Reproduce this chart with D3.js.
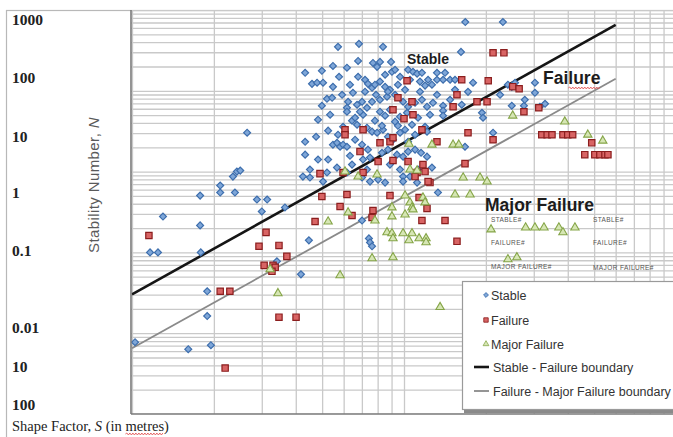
<!DOCTYPE html>
<html>
<head>
<meta charset="utf-8">
<script src="https://cdn.jsdelivr.net/npm/d3@7"></script>
<style>
  body { margin: 0; background: #fff; }
  svg { display: block; }
</style>
</head>
<body>
<svg id="chart" width="673" height="437"></svg>
<script>
// ---- Stable observations: shape factor S (m) and stability number N ----
const stableS = [
  16.8, 23.1, 5.72, 6.83, 8.37, 16.2, 6.78, 4.33, 4.99, 5.48,
  6.17, 7.69, 7.96, 8.16, 8.96, 9.03, 10.35, 10.79, 11.17, 11.64,
  13.22, 14.15, 12.26, 13.22, 13.92, 14.77, 15.4, 5.77, 4.59, 4.79,
  5.04, 5.48, 6.33, 6.78, 7.19, 7.37, 7.63, 7.82, 8.16, 8.52,
  8.88, 9.5, 10.52, 11.45, 11.95, 12.67, 17.94, 17.19, 24.1, 24.9,
  25.6, 30.3, 30.3, 5.92, 6.49, 5.21, 5.44, 6.23, 6.72, 7.01,
  7.31, 7.63, 8.16, 8.66, 9.27, 9.92, 10.35, 10.98, 11.64, 12.15,
  12.78, 4.99, 6.17, 6.17, 7.07, 8.16, 8.52, 8.88, 9.67, 10.26,
  13.92, 13.92, 13.92, 14.77, 24.9, 27.6, 31.6, 33.0, 19.35, 19.52,
  2.65, 4.33, 4.75, 5.26, 5.97, 5.48, 5.67, 5.82, 5.97, 6.17,
  6.61, 7.31, 7.63, 7.96, 8.37, 8.73, 9.11, 9.67, 10.09, 11.95,
  12.15, 21.25, 16.76, 4.33, 4.83, 5.26, 6.33, 7.07, 7.5, 8.3,
  8.73, 9.42, 9.92, 10.35, 10.98, 11.55, 12.15, 4.51, 5.21, 5.67,
  6.17, 7.31, 8.03, 8.52, 9.67, 9.92, 10.52, 11.26, 4.25, 4.51,
  5.04, 7.01, 7.5, 9.92, 11.17, 2.35, 2.43, 2.5, 2.11, 1.78,
  2.11, 2.39, 2.88, 3.14, 3.0, 3.65, 1.30, 1.78, 1.165, 1.246,
  1.79, 1.89, 1.89, 1.95, 1.61, 1.026, 3.41, 4.18, 4.47, 7.43,
  7.5, 7.63, 7.01, 13.33, 6.44, 6.72, 9.27, 9.5,
  9.27, 9.67, 8.52, 8.73, 7.89, 7.19, 6.89, 6.61, 7.82, 8.3,
  10.7, 11.26, 12.46, 13.22, 11.45, 10.09, 15.4, 16.3, 22.55, 27.8,
  4.83, 5.35, 5.72, 7.01, 6.44, 8.88, 12.67, 10.98, 10.35, 7.37
];
const stableN = [
  710, 710, 350, 381, 350, 303, 234, 167, 177, 203,
  193, 221, 198, 228, 228, 172, 182, 172, 163, 167,
  167, 167, 137, 137, 137, 137, 137, 149, 122, 126,
  126, 112, 119, 149, 137, 122, 109, 119, 130, 112,
  103, 119, 137, 130, 116, 119, 126, 97, 119, 112,
  126, 126, 94.5, 89.3, 94.5, 79.6, 81.9, 73.2, 67.2, 73.2,
  61.7, 73.2, 77.4, 84.4, 89.3, 73.2, 63.5, 71.1, 77.4, 63.5,
  71.1, 65.3, 61.7, 55.1, 50.6, 55.1, 49.2, 58.3, 47.8, 53.5,
  65.3, 56.7, 49.2, 77.4, 65.3, 65.3, 63.5, 69.1, 53.5, 46.4,
  30.3, 23.4, 27.0, 32.1, 35.9, 21.5, 22.7, 20.3, 21.5, 20.3,
  24.8, 34.9, 31.2, 30.3, 33, 27, 24.8, 30.3, 33, 35.9,
  31.2, 30.3, 20.3, 16.2, 14.1, 14.1, 15.7, 14.1, 14.9, 17.1,
  18.7, 16.2, 15.3, 17.7, 18.7, 17.1, 15.3, 10.6, 9.73, 11.2,
  9.73, 10.6, 7.96, 7.31, 10.6, 8.68, 8.68, 10.6, 8.68, 8.44,
  7.52, 8.44, 7.52, 7.52, 7.31, 8.68, 10.0, 10.3, 6.72, 5.05,
  5.51, 5.51, 4.51, 4.51, 3.21, 3.6, 2.78, 2.16, 1.0, 1.0,
  1.0, 0.33, 0.163, 0.071, 0.0634, 0.0774, 0.775, 0.535, 1.41, 1.49,
  1.33, 1.19, 2.48, 5.51, 42.7, 38.0, 41.5, 36.9,
  182, 149, 158, 97.4, 89.3, 97.4, 55.1, 46.4, 42.7, 36.9,
  38.0, 46.4, 50.6, 89.3, 97.4, 103, 103, 67.2, 89.3, 77.4,
  43.9, 50.6, 28.6, 21.5, 12.2, 12.2, 11.2, 28.6, 23.4, 18.7
];

// ---- Failure observations ----
const failureS = [
  21.25, 23.3, 10.26, 16.3, 20.4, 15.66, 18.55, 20.2, 15.15, 25.1,
  26.5, 31.3, 27.6, 9.5, 10.7, 9.11, 10.79, 10.0, 11.64, 13.22,
  17.19, 21.25, 32.1, 33.6, 35.0, 38.4, 40.0, 41.7, 49.0, 46.2,
  50.3, 52.5, 54.8, 56.2, 16.76, 11.74, 11.17, 11.95, 12.46, 10.98,
  12.26, 6.07, 6.07, 7.07, 8.16, 8.88, 9.11, 6.89, 8.03, 9.11,
  10.35, 4.91, 5.97, 7.07, 4.99, 6.17, 8.88, 11.36, 5.82, 6.44,
  7.69, 4.71, 7.63, 12.15, 11.64, 14.15, 15.66, 4.01, 1.154, 3.11,
  2.93, 3.47, 3.71, 3.06, 3.30, 3.36, 3.27, 2.11, 2.29, 3.47,
  2.2
];
const failureN = [
  295, 295, 133, 137, 133, 89.3, 73.2, 73.2, 63.5, 112.5,
  106, 61.7, 55.1, 81.9, 73.2, 58.3, 50.6, 45.2, 33, 23.4,
  30.3, 24.8, 28.6, 28.6, 28.6, 28.6, 28.6, 28.6, 22.7, 16.2,
  16.2, 16.2, 16.2, 16.2, 12.55, 12.2, 9.73, 10.0, 7.31, 8.68,
  7.52, 33, 28.6, 33, 22.7, 23.4, 26.2, 17.7, 13.3, 13.7,
  13.3, 9.44, 9.73, 9.73, 4.91, 5.2, 5.05, 4.77, 3.7, 2.86,
  3.3, 2.41, 2.7, 3.5, 2.48, 2.48, 1.37, 0.158, 1.62, 1.77,
  1.19, 1.22, 0.893, 0.691, 0.691, 0.653, 0.583, 0.33, 0.33, 0.158,
  0.037
];

// ---- Major failure observations ----
const majorS = [
  25.1, 39.0, 47.4, 53.8, 12.67, 15.15, 15.9, 10.43, 16.5, 19.03,
  20.2, 15.4, 17.49, 10.09, 10.52, 10.7, 10.79, 9.03, 9.03, 10.09,
  11.74, 11.95, 7.82, 6.23, 5.26, 6.78, 7.96, 6.07, 8.66, 9.03,
  9.11, 9.92, 10.7, 10.43, 11.36, 12.05, 12.05, 7.63, 9.11, 5.82,
  13.57, 3.22, 3.44, 20.9, 28.0, 30.3, 32.7, 37.1, 38.4, 42.5,
  24.1, 26.0, 10.52, 11.17
];
const majorN = [
  49.2, 41.5, 28.6, 24.1, 21.5, 21.5, 21.5, 22.1, 8.44, 8.44,
  7.52, 5.2, 5.2, 5.05, 4.15, 3.6, 3.4, 3.6, 2.78, 2.94,
  4.77, 4.15, 2.48, 3.12, 2.41, 8.68, 9.18, 10.0, 1.77, 1.72,
  1.49, 1.72, 1.72, 1.41, 1.49, 1.49, 1.33, 0.844, 0.868, 0.52,
  0.21, 0.617, 0.312, 1.92, 2.03, 2.03, 2.03, 2.03, 1.77, 2.03,
  0.82, 0.868, 10.6, 10.3
];

// ---- Boundary lines (end points in S, N) ----
const boundaryS = [1, 60];
const stableFailureN = [0.303, 653];
const failureMajorN = [0.065, 141];

// ---- Axis texts ----
const yTickLabels = ["1000", "100", "10", "1", "0.1", "0.01", "10", "100"];
const legendLabels = ["Stable", "Failure", "Major Failure",
  "Stable - Failure boundary", "Failure - Major Failure boundary"];

// ================= drawing =================
const W = 673, H = 437;
const plot = { left: 131, right: 673, top: 10, bottom: 414 };

const x = d3.scaleLog().domain([1, 100]).range([132, 676]);
const y = d3.scaleLog().domain([0.01, 1000]).range([plot.bottom, plot.top]);

const svg = d3.select("#chart");
svg.append("rect").attr("width", W).attr("height", H).attr("fill", "#fff");

// outer frame of the figure
svg.append("rect")
  .attr("x", 6.5).attr("y", 10.5).attr("width", 720).attr("height", 460)
  .attr("fill", "none").attr("stroke", "#b8b8b8").attr("stroke-width", 1.2);

svg.append("clipPath").attr("id", "plotClip")
  .append("rect")
  .attr("x", plot.left).attr("y", plot.top)
  .attr("width", plot.right - plot.left).attr("height", plot.bottom - plot.top);

const g = svg.append("g").attr("clip-path", "url(#plotClip)");

// log gridlines
const xGrid = g.append("g")
  .attr("transform", `translate(0,${plot.bottom})`)
  .call(d3.axisBottom(x).tickValues(x.ticks()).tickSize(-(plot.bottom - plot.top)).tickFormat(""));
const yGrid = g.append("g")
  .attr("transform", `translate(${plot.left},0)`)
  .call(d3.axisLeft(y).tickValues(y.ticks()).tickSize(-(plot.right - plot.left + 5)).tickFormat(""));
[xGrid, yGrid].forEach(a => {
  a.select(".domain").remove();
  a.selectAll("line").attr("stroke", "#c9c9c9").attr("stroke-width", 1.3);
});

// boundary lines
const line = d3.line().x(d => x(d[0])).y(d => y(d[1]));
g.append("path")
  .attr("d", line(boundaryS.map((s, i) => [s, failureMajorN[i]])))
  .attr("fill", "none").attr("stroke", "#8a8a8a").attr("stroke-width", 1.8);
g.append("path")
  .attr("d", line(boundaryS.map((s, i) => [s, stableFailureN[i]])))
  .attr("fill", "none").attr("stroke", "#151515").attr("stroke-width", 2.6);

// marker shapes
const diamond = d3.symbol(d3.symbolSquare, 24)();
const square = d3.symbol(d3.symbolSquare, 40)();
const triangle = d3.symbol(d3.symbolTriangle, 30)();

const styles = {
  stable: { path: diamond, rot: 45, fill: "#7ea6d8", stroke: "#3d6ead", sw: 1.2 },
  failure: { path: square, rot: 0, fill: "#d86464", stroke: "#8b1e1e", sw: 1.2 },
  major: { path: triangle, rot: 0, fill: "#d6e6b4", stroke: "#85a548", sw: 1.1 }
};

function drawSeries(sArr, nArr, st) {
  g.append("g").selectAll("path")
    .data(sArr.map((s, i) => [s, nArr[i]]))
    .join("path")
    .attr("d", st.path)
    .attr("transform", d => `translate(${x(d[0])},${y(d[1])}) rotate(${st.rot})`)
    .attr("fill", st.fill).attr("stroke", st.stroke).attr("stroke-width", st.sw);
}
drawSeries(stableS, stableN, styles.stable);
drawSeries(failureS, failureN, styles.failure);
drawSeries(majorS, majorN, styles.major);

// plot borders (left and bottom)
svg.append("line").attr("x1", plot.left).attr("x2", plot.left)
  .attr("y1", plot.top).attr("y2", plot.bottom)
  .attr("stroke", "#7a7a7a").attr("stroke-width", 1.6);
svg.append("line").attr("x1", plot.left).attr("x2", plot.right)
  .attr("y1", plot.bottom).attr("y2", plot.bottom)
  .attr("stroke", "#7a7a7a").attr("stroke-width", 1.6);

// red spell-check squiggle
function squiggle(x0, x1, yy) {
  let d = `M${x0},${yy}`;
  let up = true;
  for (let xx = x0 + 1.5; xx <= x1; xx += 1.5) {
    d += `L${xx},${yy + (up ? -1 : 1)}`;
    up = !up;
  }
  svg.append("path").attr("d", d).attr("fill", "none")
    .attr("stroke", "#e04848").attr("stroke-width", 0.8);
}

// region annotations
const ann = svg.append("g").attr("font-family", "'Liberation Sans', Arial, sans-serif")
  .attr("font-weight", "bold").attr("fill", "#1c1c1c");
ann.append("text").attr("x", 407).attr("y", 64).attr("font-size", 14).text("Stable");
const failTxt = ann.append("text").attr("x", 543).attr("y", 84).attr("font-size", 17.5).text("Failure");
ann.append("text").attr("x", 485).attr("y", 211).attr("font-size", 17.5).text("Major Failure");
{
  const n = failTxt.node();
  const sx = n.getStartPositionOfChar(3).x;
  const ex = n.getStartPositionOfChar(6).x + n.getExtentOfChar(6).width;
  squiggle(sx, ex, 88);
}

// small stray labels
const small = svg.append("g").attr("font-family", "'Liberation Sans', Arial, sans-serif")
  .attr("font-size", 6.5).attr("fill", "#555").attr("letter-spacing", 0.4);
[["STABLE#", 491, 222], ["STABLE#", 593, 222],
 ["FAILURE#", 491, 245], ["FAILURE#", 593, 245],
 ["MAJOR FAILURE#", 491, 269], ["MAJOR FAILURE#", 593, 270]]
  .forEach(([t, tx, ty]) => small.append("text").attr("x", tx).attr("y", ty).text(t));

// y-axis labels
const labelY = [20, 78, 137, 193, 251, 328, 367, 405];
svg.append("g").selectAll("text")
  .data(yTickLabels)
  .join("text")
  .attr("x", 12).attr("y", (d, i) => labelY[i] + 5)
  .attr("font-family", "'Liberation Serif', 'Times New Roman', serif")
  .attr("font-size", 15.5).attr("font-weight", "bold").attr("fill", "#222")
  .text(d => d);

// y-axis title
const yTitle = svg.append("text")
  .attr("transform", "translate(99,185) rotate(-90)")
  .attr("text-anchor", "middle")
  .attr("font-family", "'Liberation Sans', Arial, sans-serif")
  .attr("font-size", 15).attr("letter-spacing", 0.4).attr("fill", "#5a5a5a");
yTitle.append("tspan").text("Stability Number, ");
yTitle.append("tspan").attr("font-style", "italic").text("N");

// x-axis title
const xTitle = svg.append("text")
  .attr("x", 12).attr("y", 431)
  .attr("font-family", "'Liberation Serif', 'Times New Roman', serif")
  .attr("font-size", 14.5).attr("fill", "#222");
xTitle.append("tspan").text("Shape Factor, ");
xTitle.append("tspan").attr("font-style", "italic").text("S");
xTitle.append("tspan").text(" (in metres)");
{
  const n = xTitle.node();
  const full = "Shape Factor, S (in metres)";
  const i0 = full.indexOf("metres");
  const sx = n.getStartPositionOfChar(i0).x;
  const ex = n.getStartPositionOfChar(i0 + 5).x + n.getExtentOfChar(i0 + 5).width;
  squiggle(sx, ex, 434);
}

// legend
const lg = svg.append("g");
lg.append("rect").attr("x", 464).attr("y", 409).attr("width", 230).attr("height", 4)
  .attr("fill", "#8a8a8a");
lg.append("rect").attr("x", 462.5).attr("y", 281.5).attr("width", 230).attr("height", 128)
  .attr("fill", "#fff").attr("stroke", "#9a9a9a").attr("stroke-width", 1.2);

const rowY = [295, 320, 344, 367, 391];
const markerStyles = [styles.stable, styles.failure, styles.major];
markerStyles.forEach((st, i) => {
  lg.append("path")
    .attr("d", st.path)
    .attr("transform", `translate(486,${rowY[i]}) rotate(${st.rot}) scale(0.7)`)
    .attr("fill", st.fill).attr("stroke", st.stroke).attr("stroke-width", st.sw);
});
lg.append("line").attr("x1", 474).attr("x2", 489).attr("y1", rowY[3]).attr("y2", rowY[3])
  .attr("stroke", "#151515").attr("stroke-width", 2.6);
lg.append("line").attr("x1", 474).attr("x2", 489).attr("y1", rowY[4]).attr("y2", rowY[4])
  .attr("stroke", "#8a8a8a").attr("stroke-width", 1.8);
lg.selectAll("text.lab")
  .data(legendLabels)
  .join("text")
  .attr("class", "lab")
  .attr("x", (d, i) => i < 3 ? 491 : 493)
  .attr("y", (d, i) => rowY[i] + 4.5)
  .attr("font-family", "'Liberation Sans', Arial, sans-serif")
  .attr("font-size", 12.5).attr("fill", "#333")
  .text(d => d);
</script>
</body>
</html>
